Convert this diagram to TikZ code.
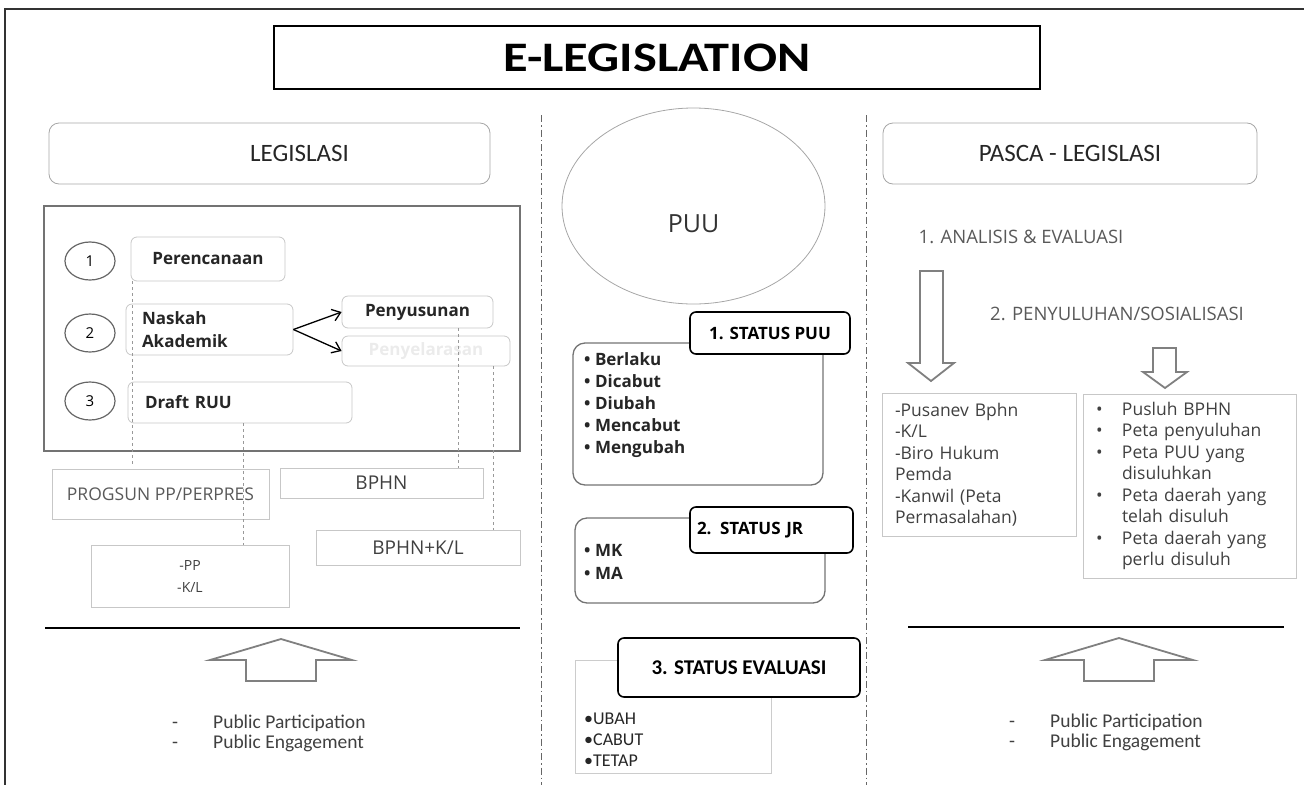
\documentclass[tikz,border=0pt]{standalone}
\usepackage{fontspec}
\setmainfont{Carlito}
\newfontfamily\osans{Open Sans}
\newfontfamily\titlefont{Carlito}[FakeStretch=1.2]
\usepackage{xcolor}
\usetikzlibrary{shapes.geometric}
\usetikzlibrary{arrows.meta,calc}

\begin{document}
\begin{tikzpicture} [
       x=1pt, y=-1pt,
       every node/.style={inner sep=0pt},
       sz/.style 2 args={minimum width=#1pt, minimum height=#2pt},
       titlebox/.style={draw=black, line width=1.6pt,
               font=\titlefont\bfseries\fontsize{42}{42}\selectfont},
       header/.style={draw=black!35, rounded corners=10pt, line width=0.8pt,
               font=\fontsize{25}{25}\selectfont, text=black!85},
       numcirc/.style={ellipse, draw=black!60, line width=1.2pt,
               font=\osans\fontsize{15}{15}\selectfont},
       stepbox/.style={draw=black!22, rounded corners=6pt, line width=0.8pt,
               font=\osans\bfseries\fontsize{17}{23}\selectfont, text=black!85},
       plainbox/.style={draw=black!22, line width=0.8pt,
               font=\osans\fontsize{17.5}{21.5}\selectfont, text=black!75},
       statbox/.style={draw=black!55, rounded corners=12pt, line width=1.3pt},
       statlabel/.style={draw=black, fill=white, rounded corners=6pt, line width=1.6pt,
               font=\osans\bfseries\fontsize{17}{17}\selectfont},
       listtext/.style={align=left, font=\osans\bfseries\fontsize{17}{22}\selectfont,
               text=black!85},
       subtitle/.style={font=\osans\fontsize{18.5}{18.5}\selectfont, text=black!65},
       pubtext/.style={align=left, font=\fontsize{19.5}{20}\selectfont, text=black!75},
       line/.style={draw, line width=1.3pt, -{Straight Barb[length=8pt,width=12pt]}},
       link/.style={draw=black!40, dashed, line width=0.8pt},
       divider/.style={draw=black!60, line width=1pt,
               dash pattern=on 7pt off 3pt on 1.5pt off 3pt},
       sep/.style={draw=black, line width=1.8pt},
       bigarrow/.style={draw=black!50, line width=1.8pt, fill=white},
       ]
       \useasboundingbox (0,0) rectangle (1304,785);
       \draw[line width=2pt, black!80] (1304,9) -- (5,9) -- (5,785);

       \node (title) [titlebox, sz={766}{63}] at (657,57.5) {E-LEGISLATION};
       \node (legis) [header, sz={441}{61}] at (269.5,153.5) {\hspace*{60pt}LEGISLASI};
       \node (pasca) [header, sz={374}{61}] at (1070,153.5) {PASCA - LEGISLASI};
       \node (puu) [ellipse, draw=black!35, line width=0.8pt, sz={263}{196},
               text height=52pt, text depth=0pt,
               font=\osans\fontsize{25}{25}\selectfont, text=black!80] at (693.5,206) {PUU};

       \draw[divider] (541,115) -- (541,785);
       \draw[divider] (866,115) -- (866,785);

       \node (proses) [draw=black!55, line width=2pt, sz={476}{245}] at (282,328.5) {};
       \node (n1) [numcirc, sz={50}{38}] at (90,261) {1};
       \node (n2) [numcirc, sz={50}{38}] at (90,333) {2};
       \node (n3) [numcirc, sz={50}{38}] at (90,401) {3};
       \node (perenc) [stepbox, sz={154}{44}] at (208,259) {Perencanaan};
       \node (naskah) [stepbox, sz={167}{51}, text width=135pt, align=left] at (209.5,329.5)
               {Naskah\\Akademik};
       \node (penyus) [stepbox, sz={151}{32}] at (417.5,312) {Penyusunan};
       \node (penyel) [stepbox, sz={168}{30}, text=black!8] at (426,351) {Penyelarasan};
       \node (draft) [stepbox, sz={224}{41}, text width=190pt, align=left] at (240,402.5)
               {Draft RUU};

       \node (progsun) [plainbox, sz={217}{50}, text=black!65] at (160.5,494) {PROGSUN PP/PERPRES};
       \node (bphn) [plainbox, sz={203}{30}, font=\osans\fontsize{19}{19}\selectfont] at (381.5,483) {BPHN};
       \node (bphnkl) [plainbox, sz={204}{35}, font=\osans\fontsize{19}{19}\selectfont] at (418,547.5) {BPHN+K/L};
       \node (ppkl) [plainbox, sz={198}{62}, align=center,
               font=\osans\fontsize{14}{22}\selectfont] at (190,576) {-PP\\-K/L};

       \path[line] (naskah.east) -- (penyus.west);
       \path[line] (naskah.east) -- (penyel.west);
       \begin{scope}[every path/.style=link]
       \path ([xshift=2pt]perenc.south west) -- ([xshift=2pt]perenc.south west |- progsun.north)
               [shorten >=5pt];
       \path ([xshift=3pt]draft.south) -- ([xshift=3pt]draft.south |- ppkl.north);
       \path ([xshift=40.5pt]penyus.south) -- ([xshift=40.5pt]penyus.south |- bphn.north);
       \path ([xshift=67pt]penyel.south) -- ([xshift=67pt]penyel.south |- bphnkl.north);
       \end{scope}

       \node (stat1) [statbox, sz={250}{142}] at (698,414) {};
       \node (stat1list) [listtext, anchor=north west] at (584,352)
               {• Berlaku\\• Dicabut\\• Diubah\\• Mencabut\\• Mengubah};
       \node (lbl1) [statlabel, sz={160}{42}] at (770,333) {1. STATUS PUU};
       \node (stat2) [statbox, sz={250}{85}] at (700,560.5) {};
       \node (stat2list) [listtext, anchor=north west, font=\osans\bfseries\fontsize{17}{23}\selectfont]
               at (584,544) {• MK\\• MA};
       \node (lbl2) [statlabel, sz={163}{46}, text width=149pt, align=left] at (771.5,530)
               {2. STATUS JR};
       \node (stat3) [draw=black!20, line width=0.8pt, sz={196}{113}] at (673,716.5) {};
       \node (stat3list) [anchor=north west, align=left, font=\fontsize{18}{21}\selectfont,
               text=black!85] at (584,713) {•UBAH\\•CABUT\\•TETAP};
       \node (lbl3) [statlabel, sz={242}{59}, font=\bfseries\fontsize{21}{21}\selectfont]
               at (739,667.5) {3. STATUS EVALUASI};

       \node (anev) [subtitle] at (1021,237) {1. ANALISIS \& EVALUASI};
       \node (suluh) [subtitle] at (1117,314) {2. PENYULUHAN/SOSIALISASI};
       \draw[bigarrow] (920,271) -- (943,271) -- (943,363) -- (954,363) -- (931,381)
               -- (908,363) -- (920,363) -- cycle;
       \draw[bigarrow] (1153,348) -- (1176,348) -- (1176,372) -- (1187,372) -- (1165,388)
               -- (1143,372) -- (1153,372) -- cycle;
       \node (unit) [plainbox, sz={194}{143}, text width=168pt, align=left] at (979,464.5)
               {-Pusanev Bphn\\-K/L\\-Biro Hukum\\Pemda\\-Kanwil (Peta\\Permasalahan)};
       \node (sosial) [plainbox, sz={213}{184}, text width=187pt, align=left] at (1189.5,486)
               {\makebox[26pt][l]{•}Pusluh BPHN\\
                \makebox[26pt][l]{•}Peta penyuluhan\\
                \makebox[26pt][l]{•}Peta PUU yang\\
                \hspace*{26pt}disuluhkan\\
                \makebox[26pt][l]{•}Peta daerah yang\\
                \hspace*{26pt}telah disuluh\\
                \makebox[26pt][l]{•}Peta daerah yang\\
                \hspace*{26pt}perlu disuluh};

       \draw[sep] (45,628) -- (520,628);
       \draw[sep] (908,627) -- (1284,627);
       \draw[bigarrow] (281,639) -- (352,660) -- (316,660) -- (316,681) -- (246,681)
               -- (246,660) -- (210,660) -- cycle;
       \draw[bigarrow] (1119,638) -- (1193,660) -- (1154,660) -- (1154,681) -- (1084,681)
               -- (1084,660) -- (1045,660) -- cycle;
       \node (pubL) [pubtext, anchor=west] at (172,733)
               {\makebox[41pt][l]{-}Public Participation\\\makebox[41pt][l]{-}Public Engagement};
       \node (pubR) [pubtext, anchor=west] at (1009,732)
               {\makebox[41pt][l]{-}Public Participation\\\makebox[41pt][l]{-}Public Engagement};
\end{tikzpicture}
\end{document}
